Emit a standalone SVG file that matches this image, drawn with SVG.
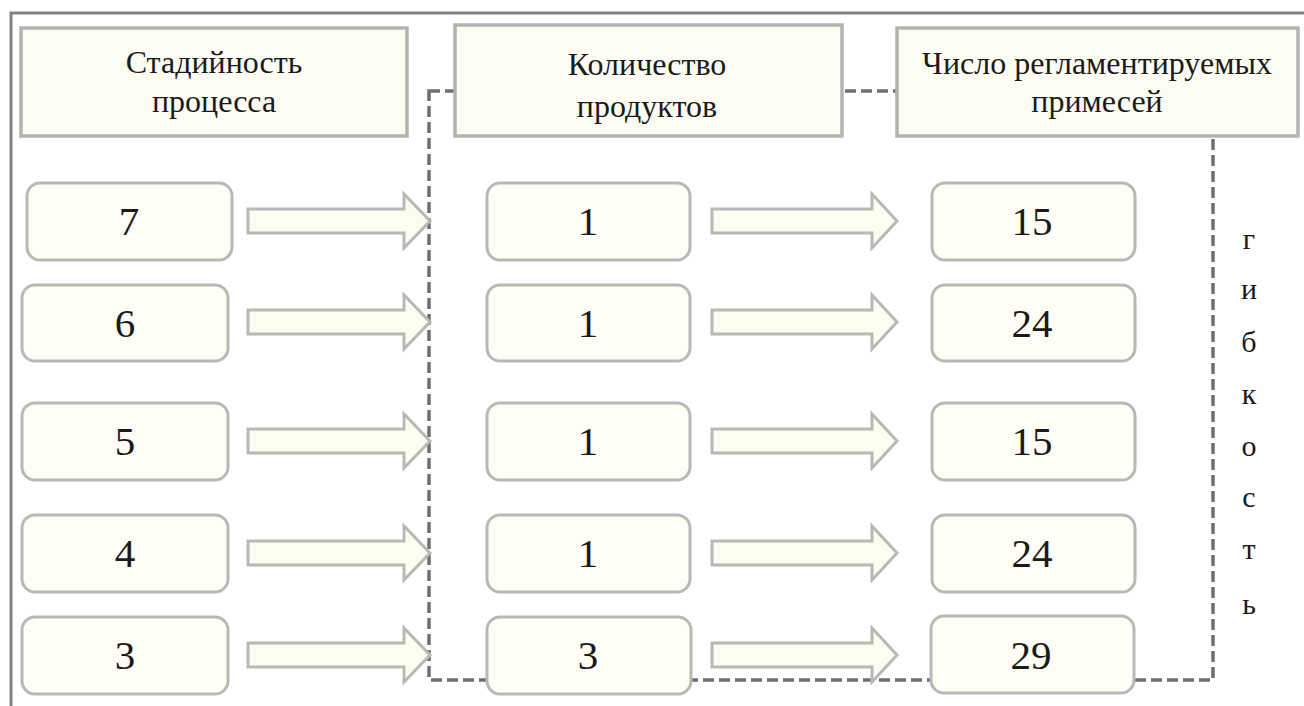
<svg xmlns="http://www.w3.org/2000/svg" width="1304" height="706" viewBox="0 0 1304 706">
<defs>
<style>
.frame{fill:none;stroke:#838383;stroke-width:3}
.hdr{fill:#fdfcf3;stroke:#b3b3b0;stroke-width:3.5}
.box{fill:#fefdf6;stroke:#b8b8b4;stroke-width:3}
.arr{fill:#fdfcf0;stroke:#b8b8b4;stroke-width:3;stroke-linejoin:miter}
.dash{fill:none;stroke:#6e6e6e;stroke-width:3.5;stroke-dasharray:11 5}
</style>
</defs>
<rect width="1304" height="706" fill="#ffffff"/>
<path class="frame" d="M11,706 V13 H1304"/>
<g id="connectors">
<rect class="dash" x="429" y="91" width="784" height="589"/>
<polygon class="arr" points="248,209 404,209 404,194 430,221 404,248 404,233 248,233"/>
<polygon class="arr" points="248,310 404,310 404,295 430,322 404,349 404,334 248,334"/>
<polygon class="arr" points="248,429 404,429 404,414 430,441 404,468 404,453 248,453"/>
<polygon class="arr" points="248,541 404,541 404,526 430,553 404,580 404,565 248,565"/>
<polygon class="arr" points="248,643 404,643 404,628 430,655 404,682 404,667 248,667"/>
<polygon class="arr" points="712,209 872,209 872,194 897,221 872,248 872,233 712,233"/>
<polygon class="arr" points="712,310 872,310 872,295 897,322 872,349 872,334 712,334"/>
<polygon class="arr" points="712,429 872,429 872,414 897,441 872,468 872,453 712,453"/>
<polygon class="arr" points="712,541 872,541 872,526 897,553 872,580 872,565 712,565"/>
<polygon class="arr" points="712,643 872,643 872,628 897,655 872,682 872,667 712,667"/>
</g>
<g id="h1"><rect class="hdr" x="21" y="28" width="386" height="108"/>
<text x="214" y="73" font-family="Liberation Serif" font-size="32" fill="#1a1a1a" text-anchor="middle" style="font-family:'Liberation Serif' !important">Стадийность</text>
<text x="214" y="112" font-family="Liberation Serif" font-size="32" fill="#1a1a1a" text-anchor="middle" style="font-family:'Liberation Serif' !important">процесса</text></g>
<g id="h2"><rect class="hdr" x="455" y="25" width="387" height="111"/>
<text x="647" y="75" font-family="Liberation Serif" font-size="32" fill="#1a1a1a" text-anchor="middle" style="font-family:'Liberation Serif' !important">Количество</text>
<text x="647" y="117" font-family="Liberation Serif" font-size="32" fill="#1a1a1a" text-anchor="middle" style="font-family:'Liberation Serif' !important">продуктов</text></g>
<g id="h3"><rect class="hdr" x="897" y="28" width="401" height="108"/>
<text x="1097" y="74" font-family="Liberation Serif" font-size="32" fill="#1a1a1a" text-anchor="middle" style="font-family:'Liberation Serif' !important">Число регламентируемых</text>
<text x="1097" y="112" font-family="Liberation Serif" font-size="32" fill="#1a1a1a" text-anchor="middle" style="font-family:'Liberation Serif' !important">примесей</text></g>
<g id="s7"><rect class="box" x="27" y="183" width="205" height="77" rx="13"/><text x="129" y="235" font-family="Liberation Serif" font-size="41" fill="#1a1a1a" text-anchor="middle" style="font-family:'Liberation Serif' !important">7</text></g>
<g id="s6"><rect class="box" x="22" y="285" width="206" height="76" rx="13"/><text x="125" y="337" font-family="Liberation Serif" font-size="41" fill="#1a1a1a" text-anchor="middle" style="font-family:'Liberation Serif' !important">6</text></g>
<g id="s5"><rect class="box" x="22" y="403" width="206" height="77" rx="13"/><text x="125" y="455" font-family="Liberation Serif" font-size="41" fill="#1a1a1a" text-anchor="middle" style="font-family:'Liberation Serif' !important">5</text></g>
<g id="s4"><rect class="box" x="22" y="515" width="206" height="77" rx="13"/><text x="125" y="567" font-family="Liberation Serif" font-size="41" fill="#1a1a1a" text-anchor="middle" style="font-family:'Liberation Serif' !important">4</text></g>
<g id="s3"><rect class="box" x="22" y="617" width="206" height="77" rx="13"/><text x="125" y="669" font-family="Liberation Serif" font-size="41" fill="#1a1a1a" text-anchor="middle" style="font-family:'Liberation Serif' !important">3</text></g>
<g id="p1"><rect class="box" x="487" y="183" width="203" height="77" rx="13"/><text x="588" y="235" font-family="Liberation Serif" font-size="41" fill="#1a1a1a" text-anchor="middle" style="font-family:'Liberation Serif' !important">1</text></g>
<g id="p2"><rect class="box" x="487" y="285" width="203" height="76" rx="13"/><text x="588" y="337" font-family="Liberation Serif" font-size="41" fill="#1a1a1a" text-anchor="middle" style="font-family:'Liberation Serif' !important">1</text></g>
<g id="p3"><rect class="box" x="487" y="403" width="203" height="77" rx="13"/><text x="588" y="455" font-family="Liberation Serif" font-size="41" fill="#1a1a1a" text-anchor="middle" style="font-family:'Liberation Serif' !important">1</text></g>
<g id="p4"><rect class="box" x="487" y="515" width="203" height="77" rx="13"/><text x="588" y="567" font-family="Liberation Serif" font-size="41" fill="#1a1a1a" text-anchor="middle" style="font-family:'Liberation Serif' !important">1</text></g>
<g id="p5"><rect class="box" x="487" y="617" width="204" height="77" rx="13"/><text x="588" y="669" font-family="Liberation Serif" font-size="41" fill="#1a1a1a" text-anchor="middle" style="font-family:'Liberation Serif' !important">3</text></g>
<g id="i1"><rect class="box" x="932" y="183" width="203" height="77" rx="13"/><text x="1032" y="235" font-family="Liberation Serif" font-size="41" fill="#1a1a1a" text-anchor="middle" style="font-family:'Liberation Serif' !important">15</text></g>
<g id="i2"><rect class="box" x="932" y="285" width="203" height="76" rx="13"/><text x="1032" y="337" font-family="Liberation Serif" font-size="41" fill="#1a1a1a" text-anchor="middle" style="font-family:'Liberation Serif' !important">24</text></g>
<g id="i3"><rect class="box" x="932" y="403" width="203" height="77" rx="13"/><text x="1032" y="455" font-family="Liberation Serif" font-size="41" fill="#1a1a1a" text-anchor="middle" style="font-family:'Liberation Serif' !important">15</text></g>
<g id="i4"><rect class="box" x="932" y="515" width="203" height="77" rx="13"/><text x="1032" y="567" font-family="Liberation Serif" font-size="41" fill="#1a1a1a" text-anchor="middle" style="font-family:'Liberation Serif' !important">24</text></g>
<g id="i5"><rect class="box" x="931" y="616" width="203" height="77" rx="13"/><text x="1031" y="669" font-family="Liberation Serif" font-size="41" fill="#1a1a1a" text-anchor="middle" style="font-family:'Liberation Serif' !important">29</text></g>
<g id="flex">
<text x="1249" y="249" font-family="Liberation Serif" font-size="30" fill="#1a1a1a" text-anchor="middle" style="font-family:'Liberation Serif' !important">г</text>
<text x="1249" y="299" font-family="Liberation Serif" font-size="30" fill="#1a1a1a" text-anchor="middle" style="font-family:'Liberation Serif' !important">и</text>
<text x="1249" y="352" font-family="Liberation Serif" font-size="30" fill="#1a1a1a" text-anchor="middle" style="font-family:'Liberation Serif' !important">б</text>
<text x="1249" y="404" font-family="Liberation Serif" font-size="30" fill="#1a1a1a" text-anchor="middle" style="font-family:'Liberation Serif' !important">к</text>
<text x="1249" y="456" font-family="Liberation Serif" font-size="30" fill="#1a1a1a" text-anchor="middle" style="font-family:'Liberation Serif' !important">о</text>
<text x="1249" y="507" font-family="Liberation Serif" font-size="30" fill="#1a1a1a" text-anchor="middle" style="font-family:'Liberation Serif' !important">с</text>
<text x="1249" y="559" font-family="Liberation Serif" font-size="30" fill="#1a1a1a" text-anchor="middle" style="font-family:'Liberation Serif' !important">т</text>
<text x="1249" y="614" font-family="Liberation Serif" font-size="30" fill="#1a1a1a" text-anchor="middle" style="font-family:'Liberation Serif' !important">ь</text>
</g>
</svg>
